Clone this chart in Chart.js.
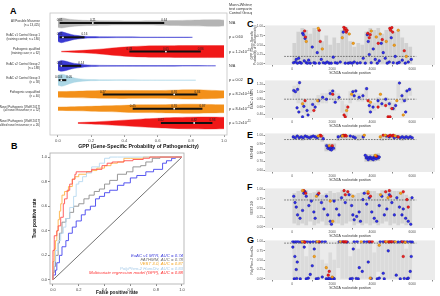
<!DOCTYPE html>
<html><head><meta charset="utf-8">
<script src="https://cdn.jsdelivr.net/npm/chart.js@4.4.1/dist/chart.umd.min.js"></script>
<style>
body{margin:0;width:440px;height:296px;background:#fff;position:relative;overflow:hidden;font-family:"Liberation Sans",Arial,sans-serif;}
canvas{position:absolute;}
.lbl{position:absolute;font-weight:bold;font-size:9px;line-height:9px;color:#000;}
</style></head><body>
<div class="lbl" style="left:10px;top:7px">A</div>
<div class="lbl" style="left:11px;top:142px">B</div>
<div class="lbl" style="left:247px;top:20px">C</div>
<div class="lbl" style="left:247px;top:77px">D</div>
<div class="lbl" style="left:247px;top:131px">E</div>
<div class="lbl" style="left:247px;top:183px">F</div>
<div class="lbl" style="left:247px;top:236px">G</div>
<canvas id="cA" width="252" height="150" style="left:0;top:0"></canvas>
<canvas id="cB" width="168" height="150" style="left:32px;top:146px"></canvas>
<canvas id="cC" style="left:250px"></canvas>
<canvas id="cD" style="left:250px"></canvas>
<canvas id="cE" style="left:250px"></canvas>
<canvas id="cF" style="left:250px"></canvas>
<canvas id="cG" style="left:250px"></canvas>
<script>
Chart.defaults.font.family = '"Liberation Sans", Arial, sans-serif';
Chart.defaults.color = '#333';

// ---------- A: GPP violins ----------
const groupLabels = [
  ['All Possible Missense', '(n = 13,425)'],
  ['ExAC v1 Control Group 1', '(training control; n = 180)'],
  ['Pathogenic qualified', '(training case; n = 62)'],
  ['ExAC v2 Control Group 2', '(n = 188)'],
  ['ExAC v2 Control Group 3', '(n = 58)'],
  ['Pathogenic unqualified', '(n = 40)'],
  ['Novel Pathogenic [Wolff 2017]', '(all novel missense; n = 52)'],
  ['Novel Pathogenic [Wolff 2017]', '(qualified novel missense; n = 26)']
];
const groupColors = ['#b4b4b4', '#3a3ad2', '#f01818', '#3a3ad2', '#acd7e6', '#f39019', '#f39019', '#f01818'];
const violinX = [
  [0, 0.02, 0.05, 0.1, 0.2, 0.3, 0.4, 0.5, 0.6, 0.7, 0.8, 0.9, 0.97, 1.0],
  [0, 0.02, 0.05, 0.08, 0.12, 0.16, 0.2, 0.3, 0.5, 0.7, 0.81],
  [0.02, 0.1, 0.2, 0.3, 0.4, 0.5, 0.6, 0.7, 0.8, 0.9, 1.0],
  [0, 0.02, 0.05, 0.08, 0.12, 0.16, 0.2, 0.3, 0.5, 0.7, 0.9, 0.95],
  [0, 0.02, 0.04, 0.07, 0.1, 0.15, 0.2, 0.3, 0.5, 0.7, 0.83],
  [0, 0.1, 0.2, 0.3, 0.4, 0.5, 0.6, 0.7, 0.8, 0.9, 1.0],
  [0, 0.1, 0.2, 0.3, 0.4, 0.5, 0.6, 0.7, 0.8, 0.9, 1.0],
  [0.12, 0.2, 0.3, 0.4, 0.5, 0.6, 0.7, 0.8, 0.9, 1.0]
];
const violinW = [
  [0.3, 0.35, 0.3, 0.22, 0.17, 0.15, 0.14, 0.14, 0.15, 0.17, 0.2, 0.22, 0.23, 0.2],
  [0.3, 0.38, 0.3, 0.2, 0.12, 0.07, 0.05, 0.03, 0.02, 0.015, 0.01],
  [0.02, 0.06, 0.12, 0.22, 0.32, 0.38, 0.4, 0.41, 0.42, 0.42, 0.42],
  [0.3, 0.38, 0.32, 0.22, 0.14, 0.08, 0.05, 0.03, 0.02, 0.02, 0.015, 0.01],
  [0.35, 0.42, 0.38, 0.25, 0.15, 0.07, 0.04, 0.02, 0.015, 0.01, 0.01],
  [0.2, 0.22, 0.25, 0.27, 0.28, 0.27, 0.27, 0.3, 0.32, 0.3, 0.25],
  [0.12, 0.14, 0.17, 0.2, 0.24, 0.27, 0.28, 0.3, 0.32, 0.3, 0.28],
  [0.03, 0.07, 0.13, 0.2, 0.27, 0.33, 0.38, 0.41, 0.42, 0.4]
];
const boxQ1  = [0.01, 0.01, 0.43, 0.01, 0.004, 0.27, 0.45, 0.62];
const boxMed = [0.21, 0.03, 0.65, 0.02, 0.02, 0.70, 0.70, 0.82];
const boxQ3  = [0.64, 0.16, 0.86, 0.14, 0.05, 0.84, 0.87, 0.93];
const pValues = [['N/A', ''], ['p = 0.60', ''], ['p = 1.2x10', '-15'], ['N/A', ''], ['p = 0.02', ''],
                 ['p = 8.2x10', '-14'], ['p = 8.4x10', '-11'], ['p = 5.2x10', '-11']];
const testHeader = ['Mann-Whitney U', 'test comparing to', 'Control Group 2'];
const gppTicks = [0, 0.2, 0.4, 0.6, 0.8, 1.0];

// ---------- B: ROC ----------
const rocNames  = ['ExAC v1 MTR, AUC = 0.74', 'FATHMM, AUC = 0.78', 'VEST 3.0, AUC = 0.87',
                   'PolyPhen-2 HumDiv, AUC = 0.83', 'Multivariate regression model (GPP), AUC = 0.88'];
const rocColors = ['#4545ee', '#8c8c8c', '#ffb347', '#b7d9f0', '#ff5050'];
const rocTextColors = ['#3b3bdc', '#6e6e6e', '#f5a623', '#a8cbe8', '#ff3030'];
const mtrFpr = [0, 0.02, 0.03, 0.05, 0.07, 0.1, 0.12, 0.15, 0.18, 0.22, 0.25, 0.29, 0.33, 0.36, 0.4, 0.44, 0.5, 0.55, 0.6, 0.65, 0.72, 0.78, 0.85, 0.88, 0.92, 0.95, 1];
const mtrTpr = [0, 0.04, 0.08, 0.14, 0.2, 0.27, 0.32, 0.38, 0.43, 0.48, 0.53, 0.57, 0.6, 0.66, 0.68, 0.71, 0.73, 0.77, 0.79, 0.83, 0.85, 0.88, 0.9, 0.95, 0.97, 0.99, 1];
const fathmmFpr = [0, 0.01, 0.02, 0.04, 0.05, 0.07, 0.1, 0.13, 0.16, 0.2, 0.24, 0.28, 0.32, 0.36, 0.4, 0.44, 0.5, 0.57, 0.62, 0.68, 0.72, 0.77, 0.83, 0.9, 1];
const fathmmTpr = [0, 0.06, 0.11, 0.2, 0.3, 0.38, 0.47, 0.5, 0.55, 0.6, 0.62, 0.66, 0.69, 0.72, 0.74, 0.78, 0.81, 0.86, 0.88, 0.92, 0.93, 0.96, 0.99, 1, 1];
const vestFpr = [0, 0.01, 0.02, 0.03, 0.04, 0.05, 0.06, 0.07, 0.09, 0.12, 0.15, 0.17, 0.2, 0.26, 0.3, 0.34, 0.4, 0.45, 0.5, 0.55, 0.6, 0.7, 0.75, 1];
const vestTpr = [0, 0.15, 0.25, 0.32, 0.4, 0.49, 0.56, 0.62, 0.69, 0.72, 0.76, 0.82, 0.84, 0.86, 0.88, 0.89, 0.91, 0.93, 0.95, 0.96, 0.99, 0.99, 1, 1];
const polyFpr = [0, 0.01, 0.02, 0.04, 0.06, 0.08, 0.1, 0.13, 0.16, 0.18, 0.2, 0.23, 0.26, 0.3, 0.36, 0.4, 0.44, 0.5, 1];
const polyTpr = [0, 0.08, 0.15, 0.24, 0.32, 0.38, 0.43, 0.5, 0.59, 0.68, 0.78, 0.8, 0.84, 0.87, 0.92, 0.95, 0.99, 1, 1];
const gppFpr = [0, 0, 0.01, 0.01, 0.03, 0.04, 0.06, 0.08, 0.09, 0.11, 0.13, 0.15, 0.17, 0.18, 0.21, 0.3, 0.38, 0.42, 0.46, 0.55, 0.62, 0.7, 0.75, 0.8, 1];
const gppTpr = [0, 0.18, 0.24, 0.33, 0.36, 0.40, 0.44, 0.51, 0.62, 0.66, 0.73, 0.78, 0.82, 0.86, 0.88, 0.88, 0.9, 0.93, 0.95, 0.96, 0.97, 0.98, 0.99, 1, 1];
const rateTicks = [0, 0.2, 0.4, 0.6, 0.8, 1.0];

// ---------- C-G: scores along SCN2A ----------
const posTicks = [0, 2000, 4000, 6000];
const unitTicks = [0, 0.25, 0.5, 0.75, 1];
// grey = all possible missense, given as [position, low, high]
const gppGrey = [[100,0,0.55],[300,0,0.85],[500,0,0.95],[700,0,0.9],[900,0,0.8],[1100,0,0.95],[1300,0,0.9],[1500,0,0.6],[1700,0,0.75],[1900,0,0.5],[2100,0,0.7],[2300,0,0.55],[2500,0,0.9],[2700,0,0.98],[2900,0,0.6],[3100,0,0.45],[3300,0,0.55],[3500,0,0.5],[3700,0,0.85],[3900,0,0.95],[4100,0,0.9],[4300,0,0.95],[4500,0,0.8],[4700,0,0.9],[4900,0,0.98],[5100,0,0.85],[5300,0,0.9],[5500,0,0.7],[5700,0,0.55],[5900,0,0.45]];
const gppBlue = [[60,0.03],[150,0.05],[200,0.12],[260,0.02],[320,0.15],[380,0.04],[450,0.02],[520,0.82],[560,0.78],[600,0.08],[640,0.68],[700,0.03],[760,0.02],[820,0.1],[900,0.02],[1000,0.45],[1080,0.03],[1150,0.02],[1250,0.3],[1350,0.02],[1450,0.12],[1550,0.03],[1650,0.02],[1750,0.05],[1850,0.02],[1950,0.02],[2050,0.18],[2150,0.03],[2250,0.02],[2400,0.05],[2550,0.85],[2650,0.02],[2800,0.02],[2900,0.03],[3000,0.02],[3100,0.05],[3250,0.02],[3400,0.03],[3550,0.15],[3650,0.02],[3750,0.78],[3800,0.6],[3850,0.25],[3950,0.03],[4050,0.4],[4150,0.12],[4250,0.02],[4350,0.08],[4450,0.55],[4550,0.3],[4650,0.15],[4750,0.02],[4850,0.05],[4950,0.7],[5050,0.03],[5150,0.2],[5250,0.02],[5350,0.04],[5500,0.1],[5650,0.02],[5800,0.05],[5950,0.12]];
const gppRed = [[620,0.88],[660,0.72],[1350,0.9],[1400,0.6],[2580,0.98],[2620,0.92],[2660,0.95],[2700,0.85],[2740,0.9],[3780,0.82],[3850,0.7],[3900,0.78],[4300,0.55],[4500,0.65],[4880,0.95],[4920,0.9],[4980,0.97],[5020,0.85],[5600,0.35]];
const gppOrange = [[700,0.6],[1300,0.95],[1500,0.4],[2500,0.7],[2850,0.8],[3050,0.55],[3950,0.88],[4200,0.72],[4400,0.8],[4700,0.6],[5100,0.5],[5300,0.9],[5700,0.2]];

const mtrGrey = [[100,0.85,1.15],[300,0.7,1.2],[500,0.45,0.8],[700,0.4,0.75],[900,0.45,0.8],[1100,0.5,0.8],[1300,0.65,0.9],[1500,0.7,0.95],[1700,0.7,0.95],[1900,0.8,1.05],[2100,0.7,1.0],[2300,0.75,0.95],[2500,0.45,0.75],[2700,0.35,0.65],[2900,0.7,1.0],[3100,0.8,1.05],[3300,0.75,0.95],[3500,0.75,0.95],[3700,0.85,1.1],[3900,0.45,0.75],[4100,0.5,0.7],[4300,0.6,0.85],[4500,0.6,0.8],[4700,0.65,0.85],[4900,0.55,0.75],[5100,0.5,0.7],[5300,0.85,1.2],[5500,0.7,0.95],[5700,0.75,1.05],[5900,0.9,1.1]];
const mtrBlue = [[75,1.03],[160,1.0],[265,1.06],[365,1.24],[240,0.57],[330,0.46],[580,0.61],[740,0.5],[790,0.38],[1020,0.66],[1145,0.59],[1330,0.76],[1520,0.85],[1710,0.8],[1900,0.95],[2025,1.02],[2150,0.72],[2340,0.85],[3030,1.0],[3095,0.89],[3180,1.02],[3345,0.85],[3535,0.89],[3720,1.08],[3850,0.63],[4040,0.59],[4290,0.76],[4480,0.68],[4670,0.8],[4855,0.68],[5045,0.55],[5170,0.63],[5360,1.23],[5485,0.89],[5610,0.76],[5735,1.02],[5860,1.06],[515,0.33],[3910,0.46],[5670,0.46]];
const mtrRed = [[640,0.76],[1080,0.5],[2025,0.93],[2590,0.38],[2650,0.33],[2780,0.59],[3790,0.76],[4290,0.59],[4790,0.33],[4890,0.33],[4980,0.55],[4670,0.63]];
const mtrOrange = [[515,0.68],[1270,0.76],[2720,0.5],[2970,0.93],[3910,0.72],[4410,0.93],[5230,0.76],[5550,0.38]];

const fathmmGrey = [[100,0.95,1.0],[300,0.95,1.0],[500,0.94,1.0],[700,0.95,1.0],[900,0.95,1.0],[1100,0.95,1.0],[1300,0.95,1.0],[1500,0.93,1.0],[1700,0.82,0.9],[1900,0.82,0.9],[2100,0.83,0.9],[2300,0.94,1.0],[2500,0.95,1.0],[2700,0.95,1.0],[2900,0.95,1.0],[3100,0.95,1.0],[3300,0.94,1.0],[3500,0.95,1.0],[3700,0.7,0.78],[3900,0.7,0.78],[4100,0.7,0.78],[4300,0.71,0.79],[4500,0.94,1.0],[4700,0.95,1.0],[4900,0.95,1.0],[5100,0.95,1.0],[5300,0.95,1.0],[5500,0.94,1.0],[5700,0.95,1.0],[5900,0.95,1.0]];
const fathmmBlue = [[50,0.98],[150,0.97],[250,0.99],[350,0.97],[450,0.98],[550,0.97],[650,0.99],[750,0.98],[850,0.97],[950,0.98],[1050,0.99],[1150,0.98],[1250,0.97],[1400,0.99],[1550,0.96],[1720,0.88],[1780,0.85],[1830,0.87],[1880,0.84],[1920,0.86],[1960,0.83],[2000,0.86],[2060,0.85],[2300,0.98],[2450,0.99],[2900,0.99],[3050,0.98],[3150,0.97],[3550,0.98],[3650,0.77],[3700,0.74],[3750,0.75],[3800,0.72],[3850,0.74],[3900,0.75],[3950,0.73],[4000,0.74],[4050,0.72],[4100,0.75],[4150,0.74],[4200,0.73],[4250,0.76],[4300,0.74],[4350,0.75],[4700,0.99],[4850,0.98],[5100,0.97],[5250,0.98],[5400,0.97],[5500,0.98],[5600,0.97],[5700,0.98],[5800,0.97],[5900,0.98],[6000,0.97]];
const fathmmRed = [[1400,1.0],[1450,0.99],[2000,0.88],[2550,1.0],[2600,0.99],[2650,1.0],[2700,0.99],[4200,0.76],[4550,1.0],[4800,0.99],[4900,1.0],[5000,0.99],[5050,1.0],[5300,0.98]];
const fathmmOrange = [[1300,0.99],[1850,0.88],[2500,0.99],[3600,1.0],[4150,0.77],[4650,1.0],[5150,0.99],[4400,0.98]];

const vestGrey = [[100,0.1,0.9],[300,0.05,0.95],[500,0.1,0.97],[700,0.05,0.97],[900,0.15,0.9],[1100,0.05,0.92],[1300,0.1,0.97],[1500,0.15,0.85],[1700,0.05,0.9],[1900,0.05,0.95],[2100,0.1,0.9],[2300,0.1,0.92],[2500,0.05,0.97],[2700,0.1,0.98],[2900,0.15,0.9],[3100,0.05,0.85],[3300,0.1,0.9],[3500,0.05,0.92],[3700,0.1,0.97],[3900,0.05,0.95],[4100,0.1,0.95],[4300,0.05,0.9],[4500,0.1,0.97],[4700,0.15,0.95],[4900,0.05,0.98],[5100,0.1,0.95],[5300,0.05,0.95],[5500,0.1,0.9],[5700,0.05,0.85],[5900,0.1,0.8]];
const vestBlue = [[75,0.82],[140,0.65],[200,0.53],[265,0.32],[390,0.23],[515,0.44],[580,0.9],[640,0.94],[700,0.82],[830,0.57],[955,0.69],[1080,0.4],[1145,0.23],[1270,0.86],[1460,0.65],[1585,0.48],[1710,0.82],[1770,0.32],[1900,0.15],[1960,0.07],[2090,0.69],[2215,0.48],[2340,0.32],[2465,0.78],[2650,0.65],[2840,0.86],[2970,0.57],[3030,0.32],[3095,0.19],[3220,0.28],[3345,0.4],[3410,0.15],[3535,0.73],[3600,0.9],[3720,0.61],[3850,0.78],[3975,0.4],[4100,0.23],[4225,0.15],[4350,0.57],[4480,0.82],[4605,0.32],[4730,0.48],[4855,0.86],[4980,0.65],[5105,0.32],[5230,0.78],[5360,0.53],[5485,0.32],[5550,0.48],[5670,0.23],[5800,0.15],[5925,0.07],[5990,0.78]];
const vestRed = [[580,0.97],[670,0.9],[1330,0.9],[2590,0.97],[2650,0.86],[2780,0.94],[3790,0.9],[3910,0.82],[4670,0.94],[4855,0.97],[4920,0.82],[5550,0.94],[5735,0.73],[5800,0.53]];
const vestOrange = [[515,0.97],[1210,0.82],[1900,0.69],[3030,0.82],[3790,0.94],[4415,0.86],[4790,0.78],[5420,0.9],[2025,0.15]];

const polyGrey = [[100,0,1],[300,0,1],[500,0,1],[700,0,0.6],[900,0,1],[1100,0,1],[1300,0,1],[1500,0,0.5],[1700,0,0.4],[1900,0,0.7],[2100,0,0.5],[2300,0.3,1],[2500,0,1],[2700,0,1],[2900,0,0.6],[3100,0,1],[3300,0,0.8],[3500,0,1],[3700,0,1],[3900,0,1],[4100,0,0.7],[4300,0.2,1],[4500,0,1],[4700,0,1],[4900,0,1],[5100,0,1],[5300,0,1],[5500,0,1],[5700,0,0.8],[5900,0,1]];
const polyBlue = [[30,1],[120,0.99],[200,1],[300,1],[420,0.99],[520,1],[640,1],[760,1],[900,0.99],[1050,1],[1200,1],[1350,0.99],[1500,1],[1650,1],[2350,1],[2500,1],[2750,0.99],[3100,1],[3250,1],[3600,1],[3750,1],[3900,0.99],[4400,1],[4550,1],[4900,1],[5100,1],[5300,0.99],[5450,1],[5600,1],[5750,1],[5900,1],[6000,0.99],
  [30,0.85],[130,0.6],[200,0.25],[250,0.45],[600,0.85],[900,0.12],[1000,0.35],[1100,0.8],[1500,0.05],[3050,0.8],[3350,0.3],[3500,0.2],[3800,0.45],[4550,0.15],[4800,0.75],[5200,0.1],[5900,0.2],[5950,0.6],
  [100,0],[220,0.01],[400,0],[700,0],[800,0.02],[1200,0],[1300,0.01],[1700,0],[1800,0],[1850,0.01],[1950,0],[2050,0.02],[2100,0],[2900,0],[3000,0.01],[3200,0.01],[3300,0],[3950,0.01],[4250,0],[4350,0.02],[4600,0],[5400,0],[5600,0.01],[5750,0],[5800,0.02]];
const polyRed = [[580,1],[620,0.98],[1350,1],[1800,0.1],[1850,0.2],[2550,1],[2600,1],[2650,0.99],[2700,1],[3850,1],[4000,1],[4650,1],[4800,1],[4850,0.99],[4950,1],[5000,1],[5500,1],[5550,0.6]];
const polyOrange = [[500,1],[1100,0.6],[1250,1],[1700,0.3],[2000,0.05],[2400,1],[3450,1],[3900,0.02],[4350,0.9],[4700,1],[5150,1],[5650,0.98]];

// ---------- plugins ----------
const framePlugin = {
  id: 'frame',
  beforeDraw(chart, args, opts) {
    if (!opts.bg) return;
    const a = chart.chartArea, ctx = chart.ctx;
    ctx.save(); ctx.fillStyle = opts.bg;
    ctx.fillRect(a.left, a.top, a.right - a.left, a.bottom - a.top); ctx.restore();
  },
  afterDraw(chart, args, opts) {
    if (!opts.color) return;
    const a = chart.chartArea, ctx = chart.ctx;
    ctx.save(); ctx.strokeStyle = opts.color; ctx.lineWidth = opts.width || 0.7;
    ctx.strokeRect(a.left, a.top, a.right - a.left, a.bottom - a.top); ctx.restore();
  }
};

function fmt(v) { return v < 0.01 ? String(v) : v.toFixed(2); }

const violinText = {
  id: 'violinText',
  afterDatasetsDraw(chart) {
    const {ctx, scales: {x, y}, chartArea} = chart;
    ctx.save();
    ctx.fillStyle = '#222';
    ctx.font = '3px "Liberation Sans", Arial';
    ctx.textAlign = 'center'; ctx.textBaseline = 'bottom';
    boxQ1.forEach((q, i) => {
      const py = y.getPixelForValue(i) - 1.2;
      ctx.fillText(fmt(q), x.getPixelForValue(q), py);
      if (boxMed[i] - q > 0.08) ctx.fillText(fmt(boxMed[i]), x.getPixelForValue(boxMed[i]), py);
      ctx.fillText(fmt(boxQ3[i]), x.getPixelForValue(boxQ3[i]) + (i === 4 ? 3 : 0), py);
    });
    // test column on the right
    const tx = chartArea.right + 2;
    ctx.textAlign = 'left'; ctx.textBaseline = 'middle'; ctx.fillStyle = '#333';
    ctx.font = '3.8px "Liberation Sans", Arial';
    testHeader.forEach((t, k) => ctx.fillText(t, tx, 5 + k * 4.2));
    pValues.forEach((p, i) => {
      const py = y.getPixelForValue(i);
      ctx.font = '3.8px "Liberation Sans", Arial';
      ctx.fillText(p[0], tx, py);
      if (p[1]) {
        const w = ctx.measureText(p[0]).width;
        ctx.font = '2.6px "Liberation Sans", Arial';
        ctx.fillText(p[1], tx + w + 0.3, py - 1.5);
      }
    });
    ctx.restore();
  }
};

const rocLegend = {
  id: 'rocLegend',
  afterDraw(chart) {
    const {ctx, chartArea: a} = chart;
    ctx.save();
    ctx.font = 'italic 4.3px "Liberation Sans", Arial';
    ctx.textAlign = 'right'; ctx.textBaseline = 'middle';
    rocNames.forEach((n, k) => {
      ctx.fillStyle = rocTextColors[k];
      ctx.fillText(n, a.right - 1, a.bottom - 28.5 + k * 4.4);
    });
    ctx.restore();
  }
};

// ---------- chart A ----------
const aSets = [];
groupLabels.forEach((g, i) => {
  aSets.push({type: 'line', data: violinX[i].map((x, k) => ({x, y: i - violinW[i][k]})),
    borderColor: groupColors[i], borderWidth: 0.4, pointRadius: 0, tension: 0.35, fill: false, order: 5});
  aSets.push({type: 'line', data: violinX[i].map((x, k) => ({x, y: i + violinW[i][k]})),
    borderColor: groupColors[i], backgroundColor: groupColors[i], borderWidth: 0.4, pointRadius: 0, tension: 0.35, fill: '-1', order: 5});
});
boxQ1.forEach((q, i) => {
  aSets.push({type: 'line', data: [{x: q, y: i}, {x: boxQ3[i], y: i}],
    borderColor: '#111', borderWidth: 2, pointRadius: 0, order: 1});
});
aSets.push({type: 'scatter', data: boxMed.map((m, i) => ({x: m, y: i})),
  pointRadius: 0.9, backgroundColor: '#fff', borderWidth: 0, order: 0});

new Chart(document.getElementById('cA'), {
  type: 'scatter',
  data: {datasets: aSets},
  options: {
    responsive: false, animation: false, devicePixelRatio: 1,
    layout: {padding: {top: 13, right: 25, left: 0, bottom: 0}},
    plugins: {legend: {display: false}, tooltip: {enabled: false}, frame: {color: '#c4c4c4', width: 0.8}},
    scales: {
      x: {type: 'linear', min: -0.048, max: 1.018,
        afterBuildTicks: s => { s.ticks = gppTicks.map(v => ({value: v})); },
        ticks: {font: {size: 4.2}, color: '#555', padding: 1, callback: v => v.toFixed(1)},
        grid: {drawOnChartArea: false, tickLength: 2, color: '#999'}, border: {display: false},
        title: {display: true, text: 'GPP (Gene-Specific Probability of Pathogenicity)', font: {size: 5.2, weight: 'bold'}, color: '#111', padding: 0},
        afterFit: s => { s.height = 15; }},
      y: {type: 'linear', reverse: true, min: -0.7, max: 7.84,
        afterBuildTicks: s => { s.ticks = groupLabels.map((g, i) => ({value: i})); },
        ticks: {font: {size: 3, lineHeight: 1.3}, color: '#333', padding: 2, callback: v => groupLabels[v]},
        grid: {display: false}, border: {display: false},
        afterFit: s => { s.width = 50; }}
    }
  },
  plugins: [framePlugin, violinText]
});

// ---------- chart B ----------
const rocFpr = [mtrFpr, fathmmFpr, vestFpr, polyFpr, gppFpr];
const rocTpr = [mtrTpr, fathmmTpr, vestTpr, polyTpr, gppTpr];
const bSets = rocNames.map((n, k) => ({
  type: 'line', label: n, data: rocFpr[k].map((x, j) => ({x, y: rocTpr[k][j]})),
  borderColor: rocColors[k], borderWidth: 0.9, pointRadius: 0, stepped: 'after', fill: false, order: 5 - k
}));
bSets.push({type: 'line', data: [{x: 0, y: 0}, {x: 1, y: 1}], borderColor: '#333', borderWidth: 0.7, pointRadius: 0, order: 6});

new Chart(document.getElementById('cB'), {
  type: 'scatter',
  data: {datasets: bSets},
  options: {
    responsive: false, animation: false, devicePixelRatio: 1,
    layout: {padding: {top: 7, right: 16, left: 0, bottom: 0}},
    plugins: {legend: {display: false}, tooltip: {enabled: false}, frame: {color: '#aaa', width: 0.8}},
    scales: {
      x: {type: 'linear', min: -0.023, max: 1.016,
        afterBuildTicks: s => { s.ticks = rateTicks.map(v => ({value: v})); },
        ticks: {font: {size: 4}, color: '#444', padding: 1, callback: v => v.toFixed(1)},
        grid: {drawOnChartArea: false, tickLength: 2, color: '#888'}, border: {display: false},
        title: {display: true, text: 'False positive rate', font: {size: 4.8, weight: 'bold'}, color: '#111', padding: 0},
        afterFit: s => { s.height = 12; }},
      y: {type: 'linear', min: -0.033, max: 1.033,
        afterBuildTicks: s => { s.ticks = rateTicks.map(v => ({value: v})); },
        ticks: {font: {size: 4}, color: '#444', padding: 1, callback: v => v.toFixed(1)},
        grid: {drawOnChartArea: false, tickLength: 2, color: '#888'}, border: {display: false},
        title: {display: true, text: 'True positive rate', font: {size: 4.8, weight: 'bold'}, color: '#111', padding: 0},
        afterFit: s => { s.width = 18; }}
    }
  },
  plugins: [framePlugin, rocLegend]
});

// ---------- charts C-G ----------
const panels = [
  {el: 'cC', top: 25, bottom: 65, grey: gppGrey, blue: gppBlue, red: gppRed, orange: gppOrange,
   range: [-0.03, 1.03], ticks: unitTicks, cut: 0.2, alpha: 0.3, title: ['GPP (Gene-Specific', 'Probability of Pathogenicity)']},
  {el: 'cD', top: 80, bottom: 118, grey: mtrGrey, blue: mtrBlue, red: mtrRed, orange: mtrOrange,
   range: [0.3, 1.3], ticks: [0.4, 0.6, 0.8, 1.0, 1.2], cut: 0.8, alpha: 0.18, title: 'ExAC v1 MTR'},
  {el: 'cE', top: 133, bottom: 172, grey: fathmmGrey, blue: fathmmBlue, red: fathmmRed, orange: fathmmOrange,
   range: [0.58, 1.02], ticks: [0.6, 0.7, 0.8, 0.9, 1.0], cut: 0.95, alpha: 0.35, title: 'FATHMM'},
  {el: 'cF', top: 188, bottom: 228, grey: vestGrey, blue: vestBlue, red: vestRed, orange: vestOrange,
   range: [-0.03, 1.03], ticks: unitTicks, cut: 0.72, alpha: 0.28, title: 'VEST 3.0'},
  {el: 'cG', top: 240, bottom: 280, grey: polyGrey, blue: polyBlue, red: polyRed, orange: polyOrange,
   range: [-0.03, 1.03], ticks: unitTicks, cut: 0.957, alpha: 0.18, title: 'PolyPhen-2 HumDiv'}
];

function dots(list, fill, edge) {
  return {type: 'scatter', data: list.map(p => ({x: p[0], y: p[1]})), pointRadius: 1.3,
    backgroundColor: fill, borderColor: edge, borderWidth: 0.4, order: 0};
}

panels.forEach(p => {
  const cv = document.getElementById(p.el);
  cv.width = 190;
  cv.height = p.bottom - p.top + 14;
  cv.style.top = (p.top - 4) + 'px';
  new Chart(cv, {
    type: 'scatter',
    data: {datasets: [
      {type: 'bar', data: p.grey.map(g => ({x: g[0], y: [g[1], g[2]]})), backgroundColor: 'rgba(150,150,150,' + p.alpha + ')',
       barThickness: 3, order: 10},
      {type: 'line', data: [{x: -400, y: p.cut}, {x: 6200, y: p.cut}], borderColor: '#555', borderWidth: 0.8,
       borderDash: [1.6, 1.2], pointRadius: 0, order: 5},
      dots(p.orange, '#f7a21b', '#b36b00'),
      dots(p.red, '#f02020', '#9a0000'),
      dots(p.blue, '#2f2ff2', '#12127a')
    ]},
    options: {
      responsive: false, animation: false, devicePixelRatio: 1,
      layout: {padding: {top: 4, right: 5, left: 0, bottom: 0}},
      plugins: {legend: {display: false}, tooltip: {enabled: false}, frame: {bg: '#ebebeb'}},
      scales: {
        x: {type: 'linear', min: -300, max: 6075,
          afterBuildTicks: s => { s.ticks = posTicks.map(v => ({value: v})); },
          ticks: {font: {size: 3.3}, color: '#555', padding: 0.5, callback: v => String(v)},
          grid: {drawOnChartArea: false, tickLength: 1.5, color: '#888'}, border: {display: false},
          title: {display: true, text: 'SCN2A nucleotide position', font: {size: 3.5}, color: '#333', padding: 0},
          afterFit: s => { s.height = 10; }},
        y: {type: 'linear', min: p.range[0], max: p.range[1],
          afterBuildTicks: s => { s.ticks = p.ticks.map(v => ({value: v})); },
          ticks: {font: {size: 3.2}, color: '#555', padding: 0.5, callback: v => v.toFixed(2)},
          grid: {drawOnChartArea: false, tickLength: 1.5, color: '#888'}, border: {display: false},
          title: {display: true, text: p.title, font: {size: 3.2, lineHeight: 1.1}, color: '#333', padding: 0},
          afterFit: s => { s.width = 15; }}
      }
    },
    plugins: [framePlugin]
  });
});
</script>
</body></html>
